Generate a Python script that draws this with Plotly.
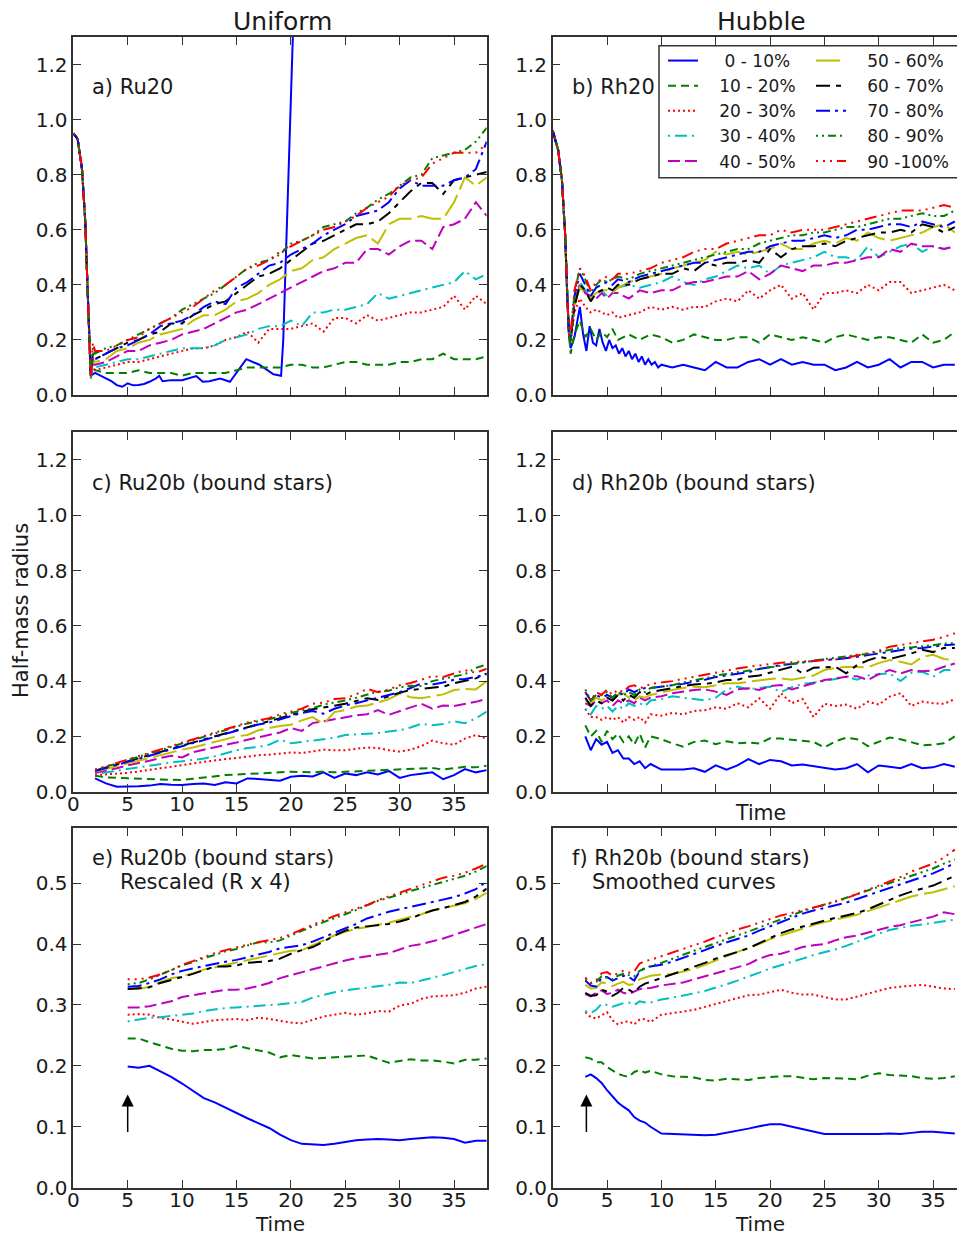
import plotly.graph_objects as go

FONT = "DejaVu Sans"
TXT = "#1a1a1a"
AXC = "#333333"

NB = "\u00a0"
LABELS = ["0 - 10%", "10 - 20%", "20 - 30%", "30 - 40%", "40 - 50%",
          "50 - 60%", "60 - 70%", "70 - 80%", "80 - 90%", "90 -100%"]
COLORS = ["#0000ff", "#008000", "#ff0000", "#00bfbf", "#bf00bf",
          "#bfbf00", "#000000", "#0000ff", "#008000", "#ff0000"]
DASHES = ["solid", "8px,5px", "2px,3px", "2px,5px,12px,5px", "12px,5px",
          "24px,6px", "14px,6px,5px,6px", "14px,5px,3px,5px",
          "2px,4px,2px,4px,8px,4px", "2px,5px,2px,5px,2px,5px,12px,5px"]

# ---------------- a) Ru20 (Uniform) ----------------
T_A_DROP = [0, 0.4, 0.8, 1.1, 1.3, 1.45]
R_A_DROP = [0.95, 0.93, 0.82, 0.63, 0.40, 0.20]
T_A = [1.6, 1.8] + list(range(2, 39))
T_A_CORE = [1.6, 2, 2.5, 3, 3.5, 4, 4.5, 5, 5.5, 6, 6.5, 7, 7.6, 7.9, 8.2, 9, 10,
            11.3, 11.9, 12.5, 13.5, 14.4, 15.9, 17.1, 18.4, 19.1, 19.3, 20.3, 20.6]
RU20_CORE = [0.07, 0.08, 0.07, 0.06, 0.05, 0.036, 0.03, 0.042, 0.035, 0.036, 0.04, 0.048,
             0.06, 0.07, 0.05, 0.054, 0.054, 0.069, 0.048, 0.05, 0.06, 0.048, 0.13, 0.11,
             0.075, 0.07, 0.2, 1.45, 1.6]
RU20 = [
    RU20_CORE,
    [0.06, 0.10, 0.09, 0.08, 0.08, 0.08, 0.09, 0.08, 0.08, 0.08, 0.07, 0.08,
     0.08, 0.08, 0.08, 0.09, 0.10, 0.10, 0.10, 0.10, 0.11, 0.11,
     0.10, 0.10, 0.11, 0.12, 0.12, 0.11, 0.11, 0.11, 0.12, 0.12,
     0.13, 0.13, 0.15, 0.13, 0.13, 0.13, 0.14],
    [0.07, 0.10, 0.09, 0.10, 0.11, 0.12, 0.12, 0.13, 0.14, 0.15, 0.16, 0.17,
     0.17, 0.18, 0.20, 0.21, 0.23, 0.19, 0.24, 0.24, 0.24, 0.25,
     0.26, 0.23, 0.28, 0.28, 0.26, 0.29, 0.27, 0.28, 0.29, 0.30,
     0.30, 0.31, 0.32, 0.36, 0.31, 0.36, 0.33],
    [0.06, 0.12, 0.10, 0.11, 0.12, 0.13, 0.13, 0.14, 0.15, 0.16, 0.17, 0.17,
     0.17, 0.18, 0.20, 0.21, 0.22, 0.24, 0.25, 0.25, 0.27, 0.25,
     0.30, 0.30, 0.31, 0.31, 0.32, 0.33, 0.37, 0.35, 0.36, 0.37,
     0.38, 0.39, 0.40, 0.41, 0.45, 0.42, 0.44],
    [0.07, 0.11, 0.11, 0.12, 0.14, 0.16, 0.16, 0.18, 0.19, 0.20, 0.22, 0.23,
     0.24, 0.26, 0.28, 0.30, 0.31, 0.33, 0.35, 0.37, 0.39, 0.41,
     0.43, 0.45, 0.46, 0.48, 0.48, 0.53, 0.53, 0.51, 0.54, 0.56,
     0.56, 0.53, 0.61, 0.62, 0.64, 0.70, 0.65],
    [0.08, 0.13, 0.12, 0.13, 0.16, 0.17, 0.19, 0.20, 0.22, 0.23, 0.24, 0.27,
     0.29, 0.29, 0.31, 0.34, 0.35, 0.37, 0.40, 0.42, 0.45, 0.46,
     0.49, 0.50, 0.53, 0.55, 0.57, 0.58, 0.55, 0.62, 0.64, 0.64,
     0.65, 0.64, 0.64, 0.70, 0.79, 0.76, 0.79],
    [0.08, 0.15, 0.13, 0.15, 0.17, 0.19, 0.20, 0.22, 0.23, 0.26, 0.26, 0.29,
     0.31, 0.33, 0.34, 0.37, 0.40, 0.43, 0.44, 0.46, 0.49, 0.52,
     0.55, 0.56, 0.58, 0.60, 0.62, 0.62, 0.63, 0.66, 0.70, 0.74,
     0.77, 0.77, 0.73, 0.78, 0.79, 0.80, 0.81],
    [0.08, 0.14, 0.13, 0.15, 0.17, 0.18, 0.20, 0.22, 0.25, 0.26, 0.27, 0.29,
     0.32, 0.34, 0.33, 0.39, 0.41, 0.44, 0.47, 0.48, 0.51, 0.53,
     0.55, 0.58, 0.60, 0.62, 0.65, 0.66, 0.67, 0.70, 0.75, 0.78,
     0.76, 0.76, 0.76, 0.78, 0.79, 0.82, 0.92],
    [0.07, 0.17, 0.15, 0.17, 0.18, 0.20, 0.22, 0.24, 0.26, 0.28, 0.31, 0.33,
     0.35, 0.37, 0.40, 0.43, 0.46, 0.48, 0.49, 0.51, 0.55, 0.56,
     0.58, 0.61, 0.62, 0.63, 0.66, 0.68, 0.71, 0.73, 0.76, 0.79,
     0.80, 0.86, 0.87, 0.88, 0.89, 0.92, 0.97],
    [0.06, 0.19, 0.16, 0.16, 0.18, 0.20, 0.21, 0.24, 0.26, 0.28, 0.30, 0.32,
     0.35, 0.38, 0.40, 0.43, 0.46, 0.47, 0.49, 0.52, 0.54, 0.56,
     0.58, 0.60, 0.61, 0.63, 0.65, 0.68, 0.70, 0.72, 0.76, 0.78,
     0.79, 0.84, 0.86, 0.88, 0.88, 0.88, 0.91],
]
T_RU20 = [T_A_CORE] + [T_A] * 9

# ---------------- b) Rh20 (Hubble) ----------------
T_B_DROP = [0, 0.5, 0.85, 1.15, 1.35, 1.5]
R_B_DROP = [0.96, 0.89, 0.78, 0.58, 0.35, 0.22]
T_B = [1.65, 2.0, 2.5, 3, 3.5, 4, 4.5, 5, 5.5, 6] + list(range(7, 38))
T_B_CORE = [1.65, 2.0, 2.5, 2.8, 3.1, 3.4, 3.7, 4.0, 4.3, 4.6, 4.9, 5.2, 5.5, 5.8,
            6.1, 6.4, 6.7, 7.0, 7.3, 7.6, 7.9, 8.2, 8.5, 8.8, 9.1, 9.4, 9.7, 10] + list(range(11, 38))
RH20 = [
    [0.17, 0.21, 0.32, 0.22, 0.16, 0.25, 0.19, 0.18, 0.24, 0.19,
     0.16, 0.20, 0.17, 0.18, 0.15, 0.17, 0.14, 0.16, 0.13, 0.15,
     0.12, 0.14, 0.11, 0.13, 0.11, 0.12, 0.10, 0.11,
     0.10, 0.11, 0.10, 0.09, 0.12, 0.10, 0.10, 0.12, 0.13, 0.11,
     0.13, 0.11, 0.12, 0.11, 0.11, 0.09, 0.10, 0.12, 0.10, 0.11,
     0.13, 0.10, 0.12, 0.12, 0.10, 0.11, 0.11],
    [0.15, 0.22, 0.27, 0.21, 0.24, 0.20, 0.23, 0.21, 0.24, 0.20,
     0.22, 0.20, 0.22, 0.21, 0.19, 0.20, 0.22, 0.21, 0.20, 0.20,
     0.21, 0.21, 0.19, 0.22, 0.21, 0.20, 0.21, 0.20, 0.19, 0.21,
     0.22, 0.21, 0.20, 0.21, 0.21, 0.20, 0.19, 0.22, 0.19, 0.20, 0.23],
    [0.19, 0.30, 0.35, 0.32, 0.30, 0.31, 0.30, 0.29, 0.30, 0.28,
     0.29, 0.30, 0.32, 0.31, 0.32, 0.31, 0.32, 0.32, 0.34, 0.35,
     0.34, 0.38, 0.35, 0.38, 0.40, 0.35, 0.37, 0.31, 0.37, 0.37,
     0.38, 0.37, 0.40, 0.38, 0.41, 0.41, 0.37, 0.38, 0.39, 0.40, 0.38],
    [0.20, 0.34, 0.41, 0.38, 0.36, 0.37, 0.38, 0.36, 0.37, 0.39,
     0.40, 0.39, 0.40, 0.41, 0.43, 0.41, 0.40, 0.42, 0.43, 0.45,
     0.47, 0.46, 0.47, 0.44, 0.47, 0.48, 0.49, 0.50, 0.52, 0.50,
     0.50, 0.49, 0.54, 0.50, 0.52, 0.54, 0.55, 0.52, 0.54, 0.53, 0.54],
    [0.20, 0.33, 0.40, 0.37, 0.36, 0.35, 0.37, 0.35, 0.37, 0.37,
     0.35, 0.38, 0.37, 0.38, 0.38, 0.40, 0.41, 0.41, 0.42, 0.43,
     0.43, 0.45, 0.42, 0.44, 0.47, 0.46, 0.45, 0.47, 0.47, 0.48,
     0.48, 0.49, 0.50, 0.50, 0.53, 0.52, 0.55, 0.54, 0.54, 0.53, 0.54],
    [0.21, 0.33, 0.39, 0.37, 0.35, 0.37, 0.38, 0.38, 0.37, 0.39,
     0.41, 0.42, 0.43, 0.44, 0.46, 0.47, 0.48, 0.49, 0.52, 0.51,
     0.52, 0.51, 0.52, 0.53, 0.55, 0.53, 0.53, 0.55, 0.56, 0.55,
     0.57, 0.56, 0.59, 0.57, 0.56, 0.57, 0.58, 0.59, 0.61, 0.62, 0.59],
    [0.20, 0.32, 0.40, 0.38, 0.34, 0.37, 0.38, 0.39, 0.38, 0.40,
     0.40, 0.42, 0.43, 0.44, 0.44, 0.46, 0.45, 0.48, 0.47, 0.48,
     0.48, 0.49, 0.48, 0.53, 0.50, 0.53, 0.54, 0.54, 0.55, 0.54,
     0.56, 0.57, 0.58, 0.59, 0.59, 0.60, 0.59, 0.62, 0.61, 0.59, 0.61],
    [0.21, 0.36, 0.44, 0.40, 0.36, 0.39, 0.40, 0.41, 0.40, 0.42,
     0.41, 0.43, 0.44, 0.45, 0.46, 0.47, 0.48, 0.48, 0.49, 0.50,
     0.51, 0.52, 0.52, 0.54, 0.55, 0.56, 0.56, 0.57, 0.58, 0.57,
     0.58, 0.60, 0.60, 0.61, 0.62, 0.62, 0.61, 0.63, 0.62, 0.61, 0.63],
    [0.19, 0.37, 0.46, 0.42, 0.37, 0.40, 0.42, 0.41, 0.42, 0.43,
     0.42, 0.44, 0.45, 0.46, 0.47, 0.48, 0.49, 0.50, 0.51, 0.52,
     0.53, 0.53, 0.55, 0.56, 0.57, 0.58, 0.58, 0.59, 0.59, 0.60,
     0.61, 0.61, 0.62, 0.63, 0.64, 0.64, 0.65, 0.66, 0.65, 0.65, 0.67],
    [0.22, 0.38, 0.46, 0.43, 0.38, 0.41, 0.42, 0.43, 0.42, 0.44,
     0.44, 0.45, 0.46, 0.48, 0.49, 0.50, 0.52, 0.53, 0.53, 0.55,
     0.56, 0.57, 0.58, 0.58, 0.60, 0.59, 0.60, 0.60, 0.60, 0.61,
     0.62, 0.63, 0.64, 0.65, 0.66, 0.67, 0.67, 0.67, 0.68, 0.69, 0.68],
]
T_RH20 = [T_B_CORE] + [T_B] * 9

# ---------------- c) Ru20b (bound stars) ----------------
T_C = list(range(2, 39))
RU20B = [
    [0.048, 0.030, 0.018, 0.018, 0.020, 0.022, 0.028, 0.025, 0.024, 0.028,
     0.030, 0.024, 0.034, 0.030, 0.048, 0.046, 0.044, 0.040, 0.054, 0.058,
     0.055, 0.070, 0.050, 0.066, 0.060, 0.070, 0.062, 0.075, 0.050, 0.060,
     0.065, 0.070, 0.045, 0.060, 0.082, 0.070, 0.078],
    [0.058, 0.052, 0.050, 0.048, 0.046, 0.045, 0.044, 0.043, 0.042, 0.047,
     0.052, 0.056, 0.060, 0.062, 0.064, 0.066, 0.068, 0.070, 0.072, 0.071,
     0.070, 0.073, 0.070, 0.072, 0.074, 0.076, 0.078, 0.080, 0.080, 0.082,
     0.084, 0.086, 0.080, 0.086, 0.090, 0.088, 0.094],
    [0.060, 0.062, 0.065, 0.068, 0.073, 0.080, 0.085, 0.090, 0.095, 0.102,
     0.108, 0.114, 0.118, 0.122, 0.128, 0.132, 0.134, 0.138, 0.142, 0.140,
     0.146, 0.152, 0.150, 0.150, 0.155, 0.160, 0.158, 0.150, 0.145, 0.152,
     0.165, 0.185, 0.175, 0.170, 0.192, 0.205, 0.192],
    [0.064, 0.070, 0.077, 0.084, 0.090, 0.096, 0.100, 0.106, 0.110, 0.115,
     0.120, 0.128, 0.140, 0.150, 0.158, 0.162, 0.170, 0.188, 0.175, 0.180,
     0.183, 0.188, 0.195, 0.205, 0.208, 0.210, 0.212, 0.218, 0.222, 0.232,
     0.246, 0.240, 0.245, 0.255, 0.248, 0.265, 0.290],
    [0.068, 0.076, 0.085, 0.095, 0.103, 0.112, 0.122, 0.130, 0.124, 0.143,
     0.152, 0.160, 0.170, 0.178, 0.188, 0.196, 0.205, 0.214, 0.230, 0.220,
     0.248, 0.255, 0.262, 0.270, 0.276, 0.280, 0.295, 0.278, 0.292, 0.305,
     0.318, 0.300, 0.312, 0.310, 0.318, 0.325, 0.336],
    [0.072, 0.082, 0.092, 0.102, 0.112, 0.123, 0.133, 0.143, 0.152, 0.160,
     0.170, 0.178, 0.190, 0.200, 0.205, 0.222, 0.230, 0.238, 0.242, 0.258,
     0.270, 0.245, 0.288, 0.295, 0.308, 0.312, 0.322, 0.335, 0.355, 0.342,
     0.338, 0.345, 0.352, 0.368, 0.372, 0.370, 0.400],
    [0.076, 0.087, 0.099, 0.110, 0.120, 0.132, 0.144, 0.155, 0.167, 0.178,
     0.190, 0.200, 0.212, 0.222, 0.235, 0.245, 0.255, 0.268, 0.278, 0.288,
     0.298, 0.305, 0.312, 0.318, 0.328, 0.338, 0.332, 0.345, 0.358, 0.368,
     0.372, 0.378, 0.380, 0.392, 0.400, 0.410, 0.428],
    [0.075, 0.085, 0.097, 0.108, 0.118, 0.130, 0.142, 0.153, 0.165, 0.176,
     0.186, 0.197, 0.208, 0.220, 0.232, 0.243, 0.250, 0.262, 0.275, 0.285,
     0.292, 0.282, 0.300, 0.312, 0.320, 0.330, 0.340, 0.352, 0.360, 0.375,
     0.392, 0.388, 0.395, 0.405, 0.408, 0.415, 0.425],
    [0.078, 0.090, 0.102, 0.114, 0.126, 0.138, 0.150, 0.163, 0.176, 0.186,
     0.198, 0.210, 0.222, 0.234, 0.247, 0.255, 0.262, 0.273, 0.285, 0.294,
     0.302, 0.315, 0.322, 0.330, 0.340, 0.350, 0.362, 0.365, 0.378, 0.383,
     0.382, 0.400, 0.408, 0.418, 0.425, 0.448, 0.460],
    [0.080, 0.092, 0.104, 0.116, 0.128, 0.140, 0.152, 0.164, 0.178, 0.190,
     0.201, 0.212, 0.224, 0.238, 0.250, 0.258, 0.266, 0.280, 0.291, 0.300,
     0.318, 0.322, 0.335, 0.338, 0.352, 0.372, 0.360, 0.370, 0.385, 0.393,
     0.405, 0.418, 0.415, 0.428, 0.440, 0.430, 0.445],
]
T_RU20B = [T_C] * 10

# ---------------- d) Rh20b (bound stars) ----------------
T_D = [3, 3.5, 4, 4.5, 5, 5.5, 6, 6.5, 7, 7.5, 8, 8.5, 9] + list(range(10, 38))
RH20B = [
    [0.20, 0.15, 0.19, 0.17, 0.18, 0.14, 0.15, 0.12, 0.12, 0.10, 0.11, 0.085, 0.10,
     0.080, 0.080, 0.080, 0.085, 0.072, 0.095, 0.080, 0.095, 0.118, 0.100,
     0.115, 0.110, 0.095, 0.098, 0.092, 0.086, 0.080, 0.085, 0.100, 0.070,
     0.095, 0.090, 0.085, 0.100, 0.085, 0.088, 0.100, 0.090],
    [0.24, 0.20, 0.22, 0.18, 0.22, 0.19, 0.21, 0.18, 0.20, 0.17, 0.21, 0.16, 0.20,
     0.190, 0.175, 0.163, 0.180, 0.185, 0.172, 0.182, 0.175, 0.178, 0.174,
     0.193, 0.192, 0.188, 0.186, 0.180, 0.160, 0.182, 0.195, 0.190, 0.165,
     0.180, 0.196, 0.190, 0.178, 0.168, 0.170, 0.175, 0.200],
    [0.30, 0.27, 0.27, 0.26, 0.27, 0.26, 0.27, 0.25, 0.27, 0.26, 0.27, 0.25, 0.28,
     0.275, 0.285, 0.280, 0.292, 0.295, 0.305, 0.300, 0.320, 0.305, 0.338,
     0.300, 0.356, 0.320, 0.335, 0.270, 0.318, 0.310, 0.315, 0.300, 0.326,
     0.315, 0.344, 0.356, 0.310, 0.326, 0.320, 0.318, 0.335],
    [0.30, 0.28, 0.31, 0.30, 0.31, 0.29, 0.31, 0.30, 0.32, 0.31, 0.32, 0.31, 0.33,
     0.335, 0.345, 0.340, 0.335, 0.330, 0.340, 0.370, 0.380, 0.370, 0.375,
     0.380, 0.360, 0.378, 0.390, 0.395, 0.400, 0.408, 0.416, 0.405, 0.420,
     0.425, 0.428, 0.400, 0.430, 0.434, 0.416, 0.440, 0.440],
    [0.32, 0.31, 0.33, 0.32, 0.33, 0.31, 0.33, 0.32, 0.33, 0.32, 0.34, 0.33, 0.34,
     0.345, 0.356, 0.362, 0.368, 0.370, 0.362, 0.350, 0.370, 0.374, 0.368,
     0.382, 0.386, 0.370, 0.380, 0.392, 0.404, 0.410, 0.416, 0.418, 0.404,
     0.425, 0.440, 0.428, 0.440, 0.436, 0.438, 0.452, 0.464],
    [0.33, 0.32, 0.34, 0.33, 0.34, 0.33, 0.35, 0.356, 0.34, 0.33, 0.345, 0.34, 0.35,
     0.360, 0.368, 0.375, 0.380, 0.378, 0.385, 0.392, 0.392, 0.398, 0.404,
     0.408, 0.410, 0.405, 0.412, 0.420, 0.440, 0.448, 0.452, 0.452, 0.450,
     0.465, 0.476, 0.470, 0.460, 0.488, 0.495, 0.480, 0.476],
    [0.34, 0.31, 0.33, 0.32, 0.34, 0.33, 0.35, 0.33, 0.35, 0.34, 0.36, 0.35, 0.36,
     0.368, 0.375, 0.382, 0.388, 0.390, 0.395, 0.404, 0.405, 0.416, 0.420,
     0.430, 0.440, 0.452, 0.428, 0.448, 0.450, 0.452, 0.428, 0.458, 0.475,
     0.488, 0.480, 0.490, 0.500, 0.513, 0.505, 0.520, 0.520],
    [0.36, 0.33, 0.35, 0.34, 0.35, 0.34, 0.36, 0.35, 0.37, 0.36, 0.37, 0.375, 0.375,
     0.380, 0.385, 0.390, 0.398, 0.405, 0.415, 0.420, 0.426, 0.432, 0.444,
     0.452, 0.458, 0.462, 0.468, 0.474, 0.478, 0.478, 0.482, 0.488, 0.494,
     0.500, 0.508, 0.514, 0.518, 0.520, 0.526, 0.530, 0.532],
    [0.37, 0.33, 0.35, 0.35, 0.36, 0.34, 0.36, 0.35, 0.36, 0.35, 0.37, 0.36, 0.375,
     0.380, 0.385, 0.395, 0.402, 0.410, 0.420, 0.426, 0.432, 0.438, 0.446,
     0.452, 0.458, 0.464, 0.468, 0.474, 0.480, 0.484, 0.490, 0.495, 0.498,
     0.506, 0.512, 0.520, 0.522, 0.525, 0.530, 0.536, 0.537],
    [0.36, 0.33, 0.36, 0.35, 0.37, 0.35, 0.37, 0.36, 0.38, 0.385, 0.375, 0.38, 0.39,
     0.395, 0.400, 0.408, 0.415, 0.422, 0.430, 0.438, 0.446, 0.452, 0.458,
     0.462, 0.466, 0.468, 0.470, 0.472, 0.476, 0.478, 0.484, 0.492, 0.500,
     0.510, 0.524, 0.530, 0.536, 0.543, 0.550, 0.560, 0.573],
]
T_RH20B = [T_D] * 10

# ---------------- e) Ru20b rescaled (R x 4) ----------------
T_E = list(range(5, 39))
RU20B_X4 = [
    [0.199, 0.197, 0.200, 0.191, 0.182, 0.171, 0.159, 0.147, 0.140, 0.131,
     0.122, 0.114, 0.106, 0.098, 0.087, 0.078, 0.072, 0.071, 0.070, 0.072,
     0.075, 0.078, 0.079, 0.080, 0.079, 0.078, 0.080, 0.082, 0.083, 0.082,
     0.080, 0.074, 0.077, 0.077],
    [0.245, 0.245, 0.239, 0.233, 0.228, 0.225, 0.224, 0.226, 0.226, 0.228,
     0.233, 0.229, 0.226, 0.222, 0.214, 0.218, 0.215, 0.212, 0.213, 0.214,
     0.214, 0.216, 0.217, 0.211, 0.205, 0.208, 0.211, 0.209, 0.209, 0.207,
     0.204, 0.210, 0.210, 0.212],
    [0.284, 0.285, 0.284, 0.279, 0.276, 0.273, 0.269, 0.272, 0.275, 0.276,
     0.277, 0.275, 0.279, 0.277, 0.274, 0.271, 0.270, 0.276, 0.281, 0.284,
     0.287, 0.284, 0.286, 0.290, 0.289, 0.299, 0.302, 0.310, 0.314, 0.315,
     0.316, 0.320, 0.327, 0.330],
    [0.273, 0.276, 0.279, 0.280, 0.282, 0.283, 0.286, 0.290, 0.293, 0.295,
     0.296, 0.297, 0.299, 0.300, 0.301, 0.303, 0.305, 0.312, 0.317, 0.321,
     0.324, 0.326, 0.328, 0.331, 0.333, 0.337, 0.336, 0.340, 0.344, 0.349,
     0.354, 0.359, 0.364, 0.367],
    [0.296, 0.296, 0.298, 0.302, 0.306, 0.313, 0.316, 0.319, 0.323, 0.325,
     0.325, 0.327, 0.331, 0.336, 0.344, 0.349, 0.354, 0.358, 0.363, 0.368,
     0.373, 0.377, 0.380, 0.382, 0.385, 0.391, 0.397, 0.400, 0.404, 0.409,
     0.415, 0.421, 0.427, 0.433],
    [0.326, 0.326, 0.330, 0.338, 0.344, 0.347, 0.352, 0.358, 0.362, 0.366,
     0.369, 0.374, 0.378, 0.382, 0.386, 0.389, 0.390, 0.398, 0.406, 0.414,
     0.420, 0.425, 0.428, 0.431, 0.435, 0.440, 0.444, 0.449, 0.455, 0.459,
     0.463, 0.467, 0.474, 0.484],
    [0.326, 0.327, 0.329, 0.336, 0.341, 0.345, 0.351, 0.357, 0.363, 0.363,
     0.365, 0.369, 0.371, 0.372, 0.376, 0.384, 0.390, 0.395, 0.404, 0.414,
     0.422, 0.427, 0.429, 0.431, 0.433, 0.437, 0.442, 0.449, 0.455, 0.459,
     0.464, 0.469, 0.478, 0.491],
    [0.330, 0.331, 0.336, 0.342, 0.350, 0.356, 0.360, 0.364, 0.368, 0.371,
     0.374, 0.378, 0.382, 0.387, 0.393, 0.396, 0.398, 0.404, 0.411, 0.419,
     0.426, 0.433, 0.442, 0.448, 0.453, 0.457, 0.461, 0.465, 0.468, 0.472,
     0.477, 0.483, 0.490, 0.503],
    [0.334, 0.336, 0.342, 0.350, 0.358, 0.365, 0.370, 0.377, 0.382, 0.388,
     0.392, 0.398, 0.403, 0.403, 0.406, 0.414, 0.422, 0.429, 0.436, 0.442,
     0.449, 0.456, 0.464, 0.471, 0.476, 0.482, 0.487, 0.492, 0.497, 0.501,
     0.507, 0.512, 0.519, 0.528],
    [0.342, 0.342, 0.345, 0.350, 0.357, 0.366, 0.372, 0.379, 0.385, 0.390,
     0.395, 0.399, 0.403, 0.406, 0.410, 0.416, 0.424, 0.432, 0.439, 0.446,
     0.452, 0.457, 0.464, 0.472, 0.478, 0.485, 0.491, 0.497, 0.503, 0.509,
     0.512, 0.517, 0.524, 0.532],
]
T_RU20B_X4 = [T_E] * 10

# ---------------- f) Rh20b smoothed ----------------
T_F = [3, 3.5, 4, 4.5, 5, 5.5, 6, 6.5, 7, 7.5, 8, 8.5, 9] + list(range(10, 38))
RH20B_SMOOTH = [
    [0.182, 0.186, 0.180, 0.172, 0.160, 0.150, 0.140, 0.133, 0.127, 0.116, 0.110, 0.107, 0.100,
     0.089, 0.088, 0.088, 0.087, 0.086, 0.087, 0.090, 0.094, 0.097, 0.101,
     0.104, 0.104, 0.100, 0.095, 0.091, 0.088, 0.088, 0.088, 0.087, 0.088,
     0.088, 0.089, 0.088, 0.090, 0.092, 0.092, 0.090, 0.089],
    [0.214, 0.212, 0.206, 0.206, 0.198, 0.193, 0.187, 0.184, 0.182, 0.190, 0.193, 0.189, 0.192,
     0.186, 0.183, 0.182, 0.181, 0.177, 0.176, 0.179, 0.178, 0.177, 0.180,
     0.182, 0.183, 0.183, 0.180, 0.178, 0.180, 0.180, 0.179, 0.178, 0.184,
     0.188, 0.185, 0.184, 0.183, 0.180, 0.179, 0.180, 0.183],
    [0.288, 0.280, 0.278, 0.283, 0.288, 0.275, 0.268, 0.272, 0.273, 0.268, 0.276, 0.277, 0.272,
     0.284, 0.286, 0.289, 0.292, 0.297, 0.302, 0.307, 0.312, 0.316, 0.317,
     0.321, 0.325, 0.320, 0.317, 0.317, 0.313, 0.309, 0.309, 0.314, 0.319,
     0.324, 0.328, 0.330, 0.332, 0.333, 0.330, 0.327, 0.326],
    [0.290, 0.287, 0.292, 0.302, 0.300, 0.297, 0.300, 0.303, 0.304, 0.300, 0.306, 0.304, 0.304,
     0.309, 0.312, 0.315, 0.319, 0.323, 0.328, 0.334, 0.340, 0.346, 0.353,
     0.360, 0.365, 0.370, 0.376, 0.382, 0.386, 0.391, 0.397, 0.404, 0.411,
     0.417, 0.423, 0.427, 0.430, 0.432, 0.435, 0.437, 0.440],
    [0.318, 0.314, 0.320, 0.324, 0.318, 0.320, 0.325, 0.320, 0.318, 0.322, 0.326, 0.327, 0.328,
     0.332, 0.334, 0.337, 0.342, 0.347, 0.352, 0.356, 0.361, 0.367, 0.376,
     0.382, 0.384, 0.389, 0.395, 0.398, 0.400, 0.406, 0.411, 0.414, 0.419,
     0.424, 0.428, 0.431, 0.436, 0.440, 0.445, 0.452, 0.449],
    [0.333, 0.327, 0.328, 0.337, 0.335, 0.331, 0.335, 0.338, 0.333, 0.334, 0.342, 0.345, 0.348,
     0.350, 0.351, 0.355, 0.359, 0.366, 0.373, 0.381, 0.388, 0.394, 0.400,
     0.408, 0.414, 0.420, 0.426, 0.431, 0.436, 0.440, 0.444, 0.448, 0.454,
     0.460, 0.466, 0.472, 0.478, 0.482, 0.485, 0.490, 0.495],
    [0.320, 0.315, 0.316, 0.325, 0.322, 0.315, 0.320, 0.328, 0.325, 0.320, 0.330, 0.335, 0.338,
     0.344, 0.350, 0.356, 0.362, 0.369, 0.376, 0.381, 0.387, 0.393, 0.401,
     0.410, 0.418, 0.424, 0.429, 0.433, 0.438, 0.443, 0.447, 0.451, 0.457,
     0.465, 0.472, 0.480, 0.486, 0.491, 0.496, 0.504, 0.512],
    [0.340, 0.332, 0.330, 0.345, 0.346, 0.340, 0.344, 0.348, 0.346, 0.340, 0.355, 0.361, 0.363,
     0.366, 0.371, 0.377, 0.384, 0.390, 0.397, 0.403, 0.409, 0.414, 0.422,
     0.429, 0.437, 0.444, 0.450, 0.455, 0.459, 0.464, 0.468, 0.474, 0.480,
     0.486, 0.492, 0.498, 0.504, 0.510, 0.516, 0.524, 0.533],
    [0.342, 0.336, 0.338, 0.347, 0.345, 0.342, 0.348, 0.351, 0.349, 0.347, 0.356, 0.360, 0.364,
     0.369, 0.376, 0.382, 0.389, 0.395, 0.402, 0.408, 0.414, 0.420, 0.427,
     0.434, 0.440, 0.447, 0.454, 0.460, 0.465, 0.470, 0.476, 0.482, 0.488,
     0.494, 0.500, 0.506, 0.512, 0.518, 0.524, 0.532, 0.539],
    [0.345, 0.336, 0.340, 0.352, 0.354, 0.348, 0.352, 0.356, 0.353, 0.355, 0.368, 0.372, 0.374,
     0.380, 0.385, 0.391, 0.397, 0.404, 0.411, 0.418, 0.424, 0.429, 0.435,
     0.441, 0.447, 0.451, 0.456, 0.460, 0.464, 0.469, 0.475, 0.482, 0.489,
     0.496, 0.502, 0.510, 0.519, 0.526, 0.532, 0.542, 0.555],
]
T_RH20B_SMOOTH = [T_F] * 10

# arrows marking the start of the bound-star curves (time, tail, tip)
ARROW_E = (5, 0.089, 0.153)
ARROW_F = (3.1, 0.089, 0.153)

# ---------------- figure ----------------
W, H = 957, 1238
XL = [73.3 / W, 486.7 / W]
XR = [552.7 / W, 1.0]
ROWS = [[1 - 395 / H, 1 - 37 / H], [1 - 791.7 / H, 1 - 432.3 / H], [1 - 1187.7 / H, 1 - 828.3 / H]]

panels = [
    (T_RU20, RU20, T_A_DROP, R_A_DROP),
    (T_RH20, RH20, T_B_DROP, R_B_DROP),
    (T_RU20B, RU20B, [], []),
    (T_RH20B, RH20B, [], []),
    (T_RU20B_X4, RU20B_X4, [], []),
    (T_RH20B_SMOOTH, RH20B_SMOOTH, [], []),
]

# legend label padding (reference text sits a little right of the sample line)
LEG_NAMES = [NB * 4 + LABELS[0]] + [NB * 3 + s for s in LABELS[1:]]

fig = go.Figure()
for p, (tl, vl, dt, dv) in enumerate(panels):
    k = p + 1
    xa = "x" if k == 1 else f"x{k}"
    ya = "y" if k == 1 else f"y{k}"
    for i in range(10):
        assert len(tl[i]) == len(vl[i]), (p, i, len(tl[i]), len(vl[i]))
        fig.add_trace(go.Scatter(
            x=list(dt) + list(tl[i]), y=list(dv) + list(vl[i]), mode="lines",
            line=dict(color=COLORS[i], width=2, dash=DASHES[i]),
            name=LEG_NAMES[i], xaxis=xa, yaxis=ya, hoverinfo="skip",
            showlegend=(p == 1), legend=("legend" if i < 5 else "legend2"),
        ))

tickfont = dict(family=FONT, size=20, color=TXT)
common = dict(showline=True, linecolor=AXC, linewidth=1.5, ticks="inside", ticklen=8,
              tickwidth=1.2, tickcolor=AXC, showgrid=False, zeroline=False,
              tickfont=tickfont, automargin=False)
layout_axes = {}
for k in range(1, 7):
    col = (k - 1) % 2
    row = (k - 1) // 2
    xn = "xaxis" if k == 1 else f"xaxis{k}"
    yn = "yaxis" if k == 1 else f"yaxis{k}"
    layout_axes[xn] = dict(common, domain=XL if col == 0 else XR,
                           range=[0, 38] if col == 0 else [0, 37.2],
                           tick0=0, dtick=5, mirror="ticks",
                           anchor="y" if k == 1 else f"y{k}",
                           showticklabels=k in (3, 5, 6), ticklabelstandoff=-6)
    layout_axes[yn] = dict(common, domain=ROWS[row],
                           range=[0, 1.3] if row < 2 else [0, 0.59],
                           tick0=0, dtick=0.2 if row < 2 else 0.1, tickformat=".1f",
                           mirror="ticks" if col == 0 else False,
                           anchor="x" if k == 1 else f"x{k}")

fig.update_layout(**layout_axes)

ann = []
def txt(x, y, s, size=21, xanchor="left", angle=0):
    ann.append(dict(x=x / W, y=1 - y / H, xref="paper", yref="paper", text=s, showarrow=False,
                    xanchor=xanchor, yanchor="middle", textangle=angle,
                    font=dict(family=FONT, size=size, color=TXT)))

txt(282, 21, "Uniform", 25, "center")
txt(761, 21, "Hubble", 25, "center")
txt(90, 87, "a) Ru20")
txt(570, 87, "b) Rh20")
txt(90, 483, "c) Ru20b (bound stars)")
txt(570, 483, "d) Rh20b (bound stars)")
txt(90, 858, "e) Ru20b (bound stars)")
txt(118, 882, "Rescaled (R x 4)")
txt(570, 858, "f) Rh20b (bound stars)")
txt(590, 882, "Smoothed curves")
txt(21, 611, "Half-mass radius", 21, "center", -90)
txt(760, 813, "Time", 20.5, "center")
txt(280, 1224, "Time", 20, "center")
txt(760, 1224, "Time", 20, "center")

for (t, y0, y1), xr, yr in [(ARROW_E, "x5", "y5"), (ARROW_F, "x6", "y6")]:
    ann.append(dict(x=t, y=y1, ax=t, ay=y0, xref=xr, yref=yr, axref=xr, ayref=yr,
                    text="", showarrow=True, arrowhead=2, arrowsize=1.6, arrowwidth=1.5,
                    arrowcolor="#000000"))

leg_font = dict(family=FONT, size=17, color=TXT)
fig.update_layout(
    width=W, height=H, margin=dict(l=0, r=0, t=0, b=0, autoexpand=False),
    paper_bgcolor="white", plot_bgcolor="white",
    annotations=ann,
    showlegend=True,
    legend=dict(x=663 / W, y=1 - 43 / H, xanchor="left", yanchor="top",
                bgcolor="rgba(0,0,0,0)", borderwidth=0, font=leg_font, itemwidth=30,
                tracegroupgap=0),
    legend2=dict(x=811 / W, y=1 - 43 / H, xanchor="left", yanchor="top",
                 bgcolor="rgba(0,0,0,0)", borderwidth=0, font=leg_font, itemwidth=30,
                 tracegroupgap=0),
    shapes=[dict(type="rect", xref="paper", yref="paper", x0=659 / W, x1=1.05,
                 y0=1 - 177.7 / H, y1=1 - 45.7 / H, line=dict(color=AXC, width=1.5),
                 fillcolor="rgba(0,0,0,0)", layer="above")],
)

fig.write_html("out.html", config={"displayModeBar": False},
               post_script="document.body.style.margin='0';")
